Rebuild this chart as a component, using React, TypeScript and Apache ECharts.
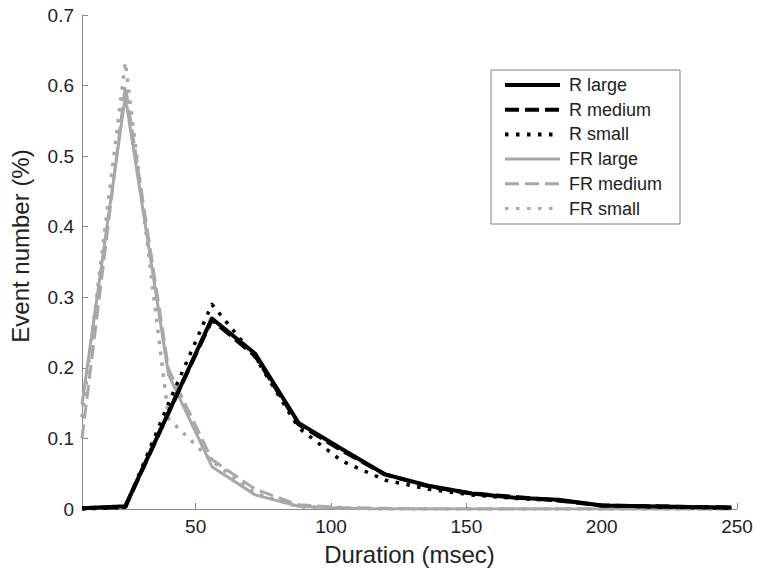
import React, { useEffect, useRef } from "react";
import * as echarts from "echarts";

// Bin centres (msec)
const durations = [8, 24, 40, 56, 72, 88, 104, 120, 136, 152, 168, 184, 200, 216, 232, 248];

const rLarge = [0.001, 0.004, 0.137, 0.27, 0.22, 0.122, 0.085, 0.049, 0.033, 0.022, 0.016, 0.013, 0.005, 0.004, 0.003, 0.002];
const rMedium = [0.001, 0.003, 0.137, 0.268, 0.217, 0.12, 0.083, 0.049, 0.032, 0.022, 0.017, 0.012, 0.005, 0.004, 0.003, 0.002];
const rSmall = [0.0, 0.002, 0.15, 0.29, 0.215, 0.115, 0.068, 0.041, 0.028, 0.02, 0.015, 0.012, 0.005, 0.003, 0.002, 0.001];
const frLarge = [0.148, 0.585, 0.19, 0.06, 0.02, 0.004, 0.001, 0, 0, 0, 0, 0, 0, 0, 0, 0];
const frMedium = [0.1, 0.6, 0.198, 0.07, 0.028, 0.006, 0.002, 0.001, 0, 0, 0, 0, 0, 0, 0, 0];
const frSmall = [0.13, 0.633, 0.128, 0.068, 0.022, 0.003, 0.001, 0, 0, 0, 0, 0, 0, 0, 0, 0];

const seriesNames = ["R large", "R medium", "R small", "FR large", "FR medium", "FR small"];
const xTicks = [50, 100, 150, 200, 250];

const FONT = '"Liberation Sans", Arial, Helvetica, sans-serif';
const BLACK = "#000000";
const GRAY = "#a8a8a8";

export default function App() {
  const ref = useRef<HTMLDivElement>(null);
  useEffect(() => {
    if (!ref.current) return;
    const chart = echarts.init(ref.current, undefined, { renderer: "svg" });
    const pair = (ys: number[]) => durations.map((x, i) => [x, ys[i]]);
    const dashed = [14, 6];
    const dotted = [3.5, 7.5];
    const mk = (name: string, ys: number[], color: string, width: number, type: any, z: number) => ({
      name,
      type: "line",
      data: pair(ys),
      symbol: "none",
      z,
      lineStyle: { color, width, type, join: "round", cap: "butt" },
      itemStyle: { color },
    });
    const series = [
      mk("FR large", frLarge, GRAY, 3, "solid", 2),
      mk("FR medium", frMedium, GRAY, 3, dashed, 2),
      mk("FR small", frSmall, GRAY, 3.5, dotted, 2),
      mk("R large", rLarge, BLACK, 4, "solid", 3),
      mk("R medium", rMedium, BLACK, 4, dashed, 3),
      mk("R small", rSmall, BLACK, 3.5, dotted, 3),
    ];
    chart.setOption({
      animation: false,
      backgroundColor: "#ffffff",
      grid: { left: 82, right: 25, top: 15, bottom: 69, containLabel: false },
      legend: {
        data: seriesNames.map((n) => ({
          name: n,
          lineStyle: { width: n.startsWith("R") ? 4 : 3 },
          itemStyle: { opacity: 0, borderWidth: 0 },
        })),
        orient: "vertical",
        left: 491,
        top: 70,
        padding: [6, 18, 6.5, 12],
        itemGap: 6.7,
        itemWidth: 55,
        itemHeight: 14,
        borderColor: "#808080",
        borderWidth: 1,
        backgroundColor: "#ffffff",
        textStyle: { fontSize: 18, fontFamily: FONT, color: "#222", padding: [0, 0, 0, 4] },
      },
      xAxis: {
        type: "value",
        min: 8,
        max: 250,
        name: "Duration (msec)",
        nameLocation: "middle",
        nameGap: 33,
        nameTextStyle: { fontSize: 24, fontFamily: FONT, color: "#222" },
        axisLine: { show: true, onZero: false, lineStyle: { color: "#8a8a8a", width: 1 } },
        axisTick: { show: true, inside: true, length: 6, customValues: xTicks, lineStyle: { color: "#8a8a8a" } },
        axisLabel: { customValues: xTicks, fontSize: 19, fontFamily: FONT, color: "#222", margin: 8 },
        splitLine: { show: false },
      },
      yAxis: {
        type: "value",
        min: 0,
        max: 0.7,
        interval: 0.1,
        name: "Event number (%)",
        nameLocation: "middle",
        nameRotate: 90,
        nameGap: 50,
        nameTextStyle: { fontSize: 24, fontFamily: FONT, color: "#222", padding: [0, 0, 0, 32] },
        axisLine: { show: true, lineStyle: { color: "#8a8a8a", width: 1 } },
        axisTick: { show: true, inside: true, length: 6, lineStyle: { color: "#8a8a8a" } },
        axisLabel: {
          fontSize: 19,
          fontFamily: FONT,
          color: "#222",
          margin: 8,
          formatter: (v: number) => (v === 0 ? "0" : v.toFixed(1)),
        },
        splitLine: { show: false },
      },
      series,
    });
    return () => chart.dispose();
  }, []);
  return (
    <div
      ref={ref}
      style={{ position: "absolute", left: 0, top: 0, width: 762, height: 578 }}
    />
  );
}
